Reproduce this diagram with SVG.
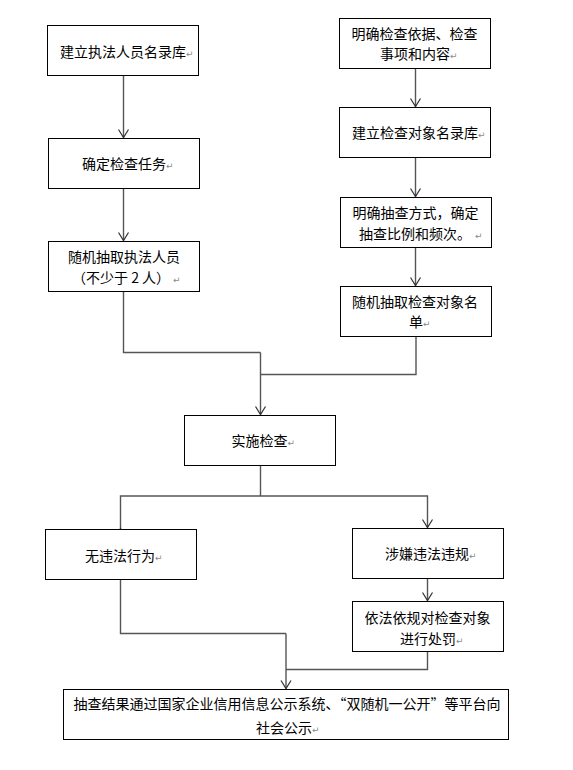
<svg xmlns="http://www.w3.org/2000/svg" width="573" height="770" viewBox="0 0 573 770">
<style>
.box{fill:#fff;stroke:#000;stroke-width:1}
.t{font-family:"Noto Sans CJK SC","Noto Sans",sans-serif;font-size:14px;fill:#000}
.pm{font-family:"DejaVu Sans",sans-serif;font-size:9px;fill:#8a8a8a}
.c{fill:none;stroke:#555;stroke-width:1.4}
</style>
<defs>
<marker id="ah" viewBox="-10 -6 12 12" refX="0" refY="0" markerWidth="12" markerHeight="12" markerUnits="userSpaceOnUse" orient="auto">
<path d="M-8,-5 L0,0 L-8,5" fill="none" stroke="#333" stroke-width="1.2"/>
</marker>
</defs>
<rect width="573" height="770" fill="#fff"/>
<g id="connectors">
<line class="c" x1="123.5" y1="75.5" x2="123.5" y2="137.5" marker-end="url(#ah)"/>
<line class="c" x1="123.5" y1="188.5" x2="123.5" y2="240.5" marker-end="url(#ah)"/>
<line class="c" x1="415.5" y1="68.5" x2="415.5" y2="106.5" marker-end="url(#ah)"/>
<line class="c" x1="415.5" y1="157.5" x2="415.5" y2="196.5" marker-end="url(#ah)"/>
<line class="c" x1="415.5" y1="247.5" x2="415.5" y2="285.5" marker-end="url(#ah)"/>
<polyline class="c" points="123.5,291.5 123.5,352.5 260.5,352.5"/>
<polyline class="c" points="416,336.5 416,374.5 260.5,374.5"/>
<line class="c" x1="260.5" y1="352.5" x2="260.5" y2="414.5" marker-end="url(#ah)"/>
<line class="c" x1="260.5" y1="465.5" x2="260.5" y2="496"/>
<polyline class="c" points="120.5,528.5 120.5,496 427.5,496 427.5,527.5" marker-start="url(#ah)" marker-end="url(#ah)"/>
<line class="c" x1="427.5" y1="578.5" x2="427.5" y2="600.5" marker-end="url(#ah)"/>
<polyline class="c" points="120.5,579.5 120.5,633.5 286,633.5"/>
<polyline class="c" points="427.5,651.5 427.5,669.5 286,669.5"/>
<line class="c" x1="286" y1="633.5" x2="286" y2="688.5" marker-end="url(#ah)"/>
</g>
<g id="n1"><rect class="box" x="47.5" y="25.5" width="151" height="50"/><text class="t" x="60" y="57">建立执法人员名录库<tspan class="pm">↵</tspan></text></g>
<g id="n2"><rect class="box" x="48.5" y="138.5" width="151" height="50"/><text class="t" x="82" y="169">确定检查任务<tspan class="pm">↵</tspan></text></g>
<g id="n3"><rect class="box" x="48.5" y="241.5" width="151" height="50"/><text class="t" x="68" y="262">随机抽取执法人员</text><text class="t" x="72" y="283">（不少于 2 人）<tspan class="pm" dx="3">↵</tspan></text></g>
<g id="n4"><rect class="box" x="339.5" y="18.5" width="151" height="50"/><text class="t" x="351.5" y="38.5">明确检查依据、检查</text><text class="t" x="380" y="59">事项和内容<tspan class="pm">↵</tspan></text></g>
<g id="n5"><rect class="box" x="339.5" y="107.5" width="151" height="50"/><text class="t" x="352" y="138">建立检查对象名录库<tspan class="pm">↵</tspan></text></g>
<g id="n6"><rect class="box" x="340.5" y="197.5" width="151" height="50"/><text class="t" x="352.5" y="217.5">明确抽查方式，确定</text><text class="t" x="359" y="238.5">抽查比例和频次。<tspan class="pm" dx="4">↵</tspan></text></g>
<g id="n7"><rect class="box" x="340.5" y="286.5" width="151" height="50"/><text class="t" x="352" y="307">随机抽取检查对象名</text><text class="t" x="409" y="327">单<tspan class="pm">↵</tspan></text></g>
<g id="n8"><rect class="box" x="184.5" y="415.5" width="151" height="50"/><text class="t" x="231.5" y="446">实施检查<tspan class="pm">↵</tspan></text></g>
<g id="n9"><rect class="box" x="45.5" y="529.5" width="151" height="50"/><text class="t" x="85" y="560.5">无违法行为<tspan class="pm">↵</tspan></text></g>
<g id="n10"><rect class="box" x="352.5" y="528.5" width="151" height="50"/><text class="t" x="385" y="558.5">涉嫌违法违规<tspan class="pm">↵</tspan></text></g>
<g id="n11"><rect class="box" x="352.5" y="601.5" width="151" height="50"/><text class="t" x="364.5" y="623">依法依规对检查对象</text><text class="t" x="400" y="644">进行处罚<tspan class="pm">↵</tspan></text></g>
<g id="n12"><rect class="box" x="63.5" y="689.5" width="445" height="50"/><text class="t" x="73.5" y="708.5">抽查结果通过国家企业信用信息公示系统、“双随机一公开”等平台向</text><text class="t" x="256" y="732.5">社会公示<tspan class="pm">↵</tspan></text></g>
</svg>
